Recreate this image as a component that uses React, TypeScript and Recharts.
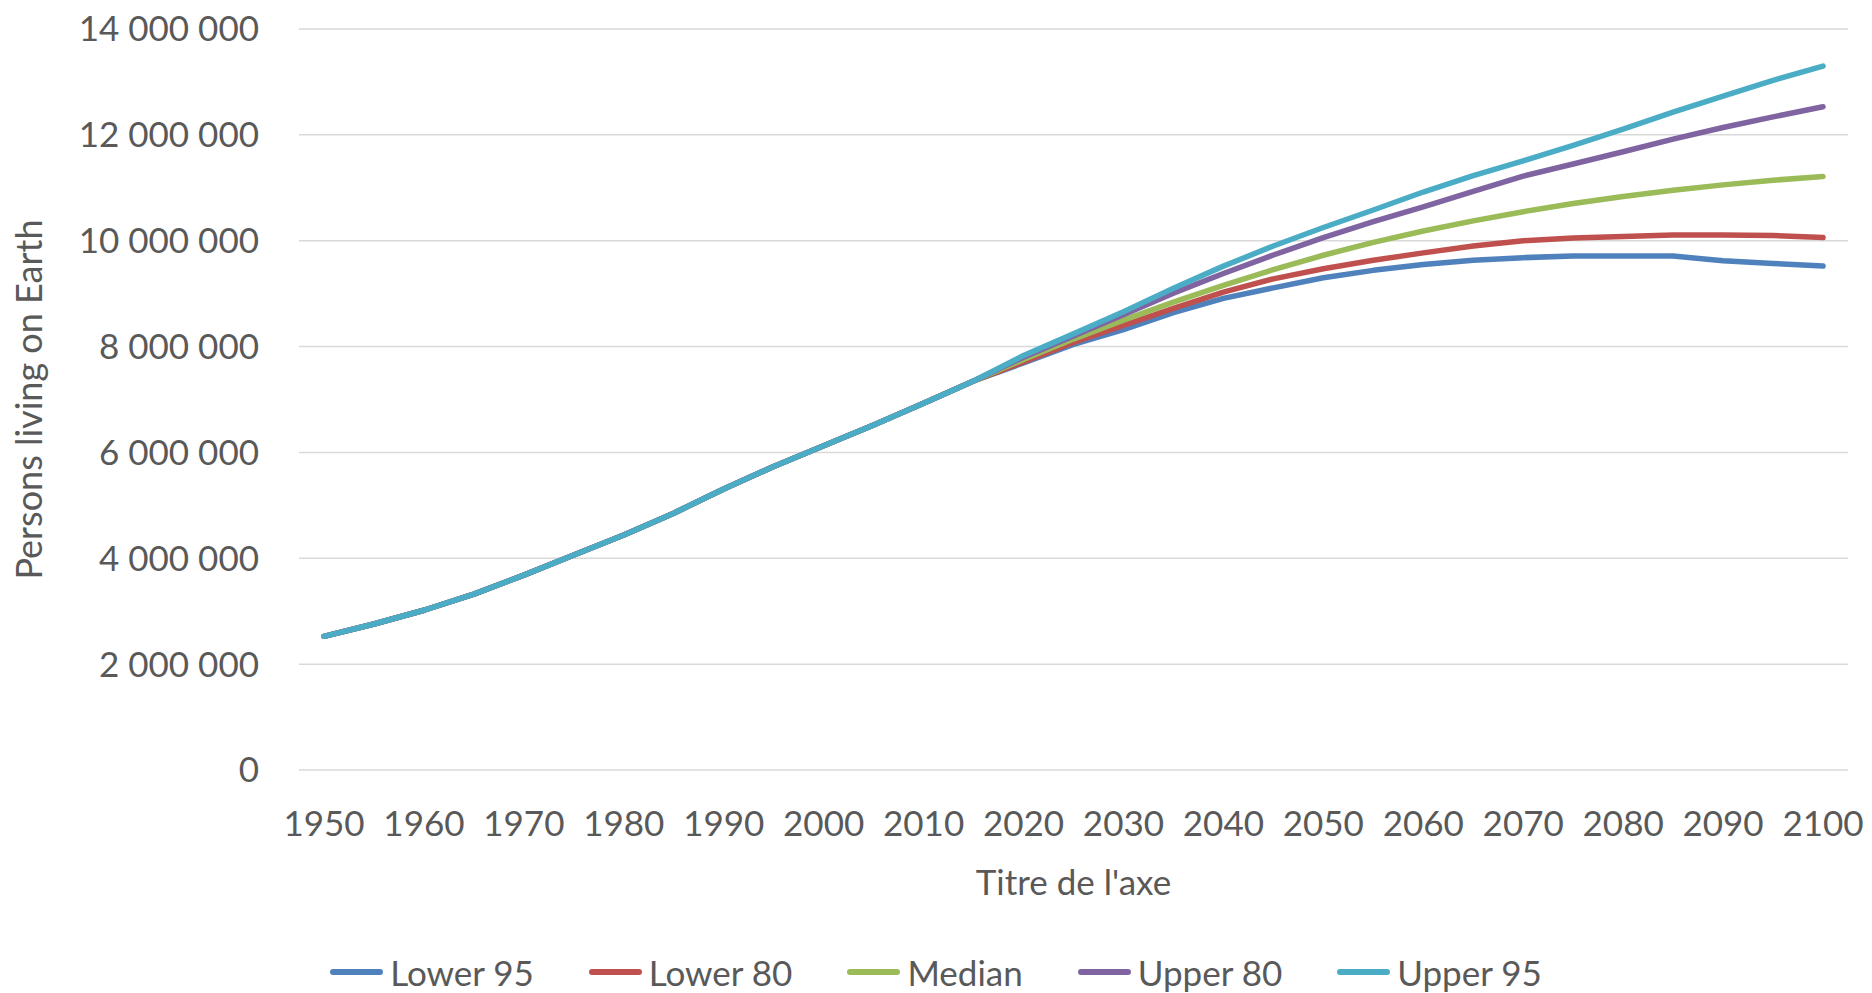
import { CartesianGrid, Legend, Line, LineChart, XAxis, YAxis } from "recharts";

const years = [
  1950, 1955, 1960, 1965, 1970, 1975, 1980, 1985, 1990, 1995, 2000, 2005, 2010, 2015, 2020, 2025, 2030, 2035,
  2040, 2045, 2050, 2055, 2060, 2065, 2070, 2075, 2080, 2085, 2090, 2095, 2100,
];

// 1950-2015, identical for every series
const history = [
  2525779, 2758315, 3018344, 3322495, 3682488, 4061399, 4439632, 4852541, 5309668, 5735123, 6126622, 6519636,
  6929725, 7349472,
];

// 2020-2100 projections
const lower95 = [
  7690000, 8040000, 8320000, 8640000, 8910000, 9110000, 9300000, 9440000, 9550000, 9630000, 9680000, 9710000,
  9710000, 9710000, 9620000, 9570000, 9520000,
];
const lower80 = [
  7710000, 8080000, 8400000, 8720000, 9030000, 9280000, 9470000, 9630000, 9770000, 9900000, 10000000, 10050000,
  10080000, 10110000, 10110000, 10100000, 10060000,
];
const median = [
  7758157, 8141661, 8500766, 8838908, 9157234, 9453892, 9725148, 9968809, 10184290, 10375719, 10547989, 10701653,
  10836635, 10953525, 11055270, 11142461, 11213317,
];
const upper80 = [
  7800000, 8200000, 8600000, 9010000, 9380000, 9730000, 10060000, 10360000, 10640000, 10930000, 11220000, 11450000,
  11680000, 11920000, 12140000, 12340000, 12530000,
];
const upper95 = [
  7830000, 8240000, 8660000, 9100000, 9520000, 9900000, 10250000, 10580000, 10920000, 11230000, 11510000, 11800000,
  12110000, 12430000, 12730000, 13030000, 13300000,
];

const yTicks = [0, 2000000, 4000000, 6000000, 8000000, 10000000, 12000000, 14000000];

const SERIES = [
  { key: "Lower 95", values: lower95, color: "#4F81BD" },
  { key: "Lower 80", values: lower80, color: "#C0504D" },
  { key: "Median", values: median, color: "#9BBB59" },
  { key: "Upper 80", values: upper80, color: "#8064A2" },
  { key: "Upper 95", values: upper95, color: "#4BACC6" },
];

const data = years.map((year, i) => {
  const row: Record<string, number> = { year };
  SERIES.forEach((s) => {
    row[s.key] = i < history.length ? history[i] : s.values[i - history.length];
  });
  return row;
});

const TEXT = "#595959";
const FONT = 35;

const fmt = (v: number) => String(v).replace(/\B(?=(\d{3})+(?!\d))/g, " ");

function renderLegend() {
  return (
    <div style={{ display: "flex", justifyContent: "center", alignItems: "center", height: 44 }}>
      {SERIES.map((s, i) => (
        <div
          key={s.key}
          style={{ display: "flex", alignItems: "center", marginLeft: i === 0 ? 0 : 55, color: TEXT, fontSize: FONT }}
        >
          <span
            style={{ display: "inline-block", width: 53, height: 6, borderRadius: 3, background: s.color, marginRight: 7 }}
          />
          <span style={{ lineHeight: "44px" }}>{s.key}</span>
        </div>
      ))}
    </div>
  );
}

export default function App() {
  return (
    <div style={{ position: "absolute", left: 0, top: 0, fontFamily: "Lato, sans-serif" }}>
      <LineChart width={1872} height={993} data={data} margin={{ top: 29, right: 24, left: 0, bottom: 93 }}>
        <CartesianGrid vertical={false} stroke="#D9D9D9" strokeWidth={1.5} />
        <XAxis
          dataKey="year"
          interval={1}
          padding={{ left: 25, right: 25 }}
          height={130}
          axisLine={false}
          tickLine={false}
          tickSize={0}
          tickMargin={41}
          tick={{ fill: TEXT, fontSize: FONT }}
          label={{
            content: ({ viewBox }: any) => (
              <text x={viewBox.x + viewBox.width / 2} y={viewBox.y + 125} textAnchor="middle" fill={TEXT} fontSize={FONT}>
                Titre de l'axe
              </text>
            ),
          }}
        />
        <YAxis
          domain={[0, 14000000]}
          ticks={yTicks}
          width={299}
          axisLine={false}
          tickLine={false}
          tickSize={0}
          tickMargin={40}
          tickFormatter={fmt}
          tick={{ fill: TEXT, fontSize: FONT }}
          label={{
            content: ({ viewBox }: any) => {
              const cx = 42;
              const cy = viewBox.y + viewBox.height / 2;
              return (
                <text x={cx} y={cy} textAnchor="middle" fill={TEXT} fontSize={36} transform={`rotate(-90 ${cx} ${cy})`}>
                  Persons living on Earth
                </text>
              );
            },
          }}
        />
        <Legend
          layout="horizontal"
          verticalAlign="middle"
          align="center"
          content={renderLegend}
          wrapperStyle={{ top: 950, left: 0, width: 1872 }}
        />
        {SERIES.map((s) => (
          <Line
            key={s.key}
            type="linear"
            dataKey={s.key}
            stroke={s.color}
            strokeWidth={5.5}
            strokeLinecap="round"
            strokeLinejoin="round"
            dot={false}
            activeDot={false}
            isAnimationActive={false}
          />
        ))}
      </LineChart>
    </div>
  );
}
